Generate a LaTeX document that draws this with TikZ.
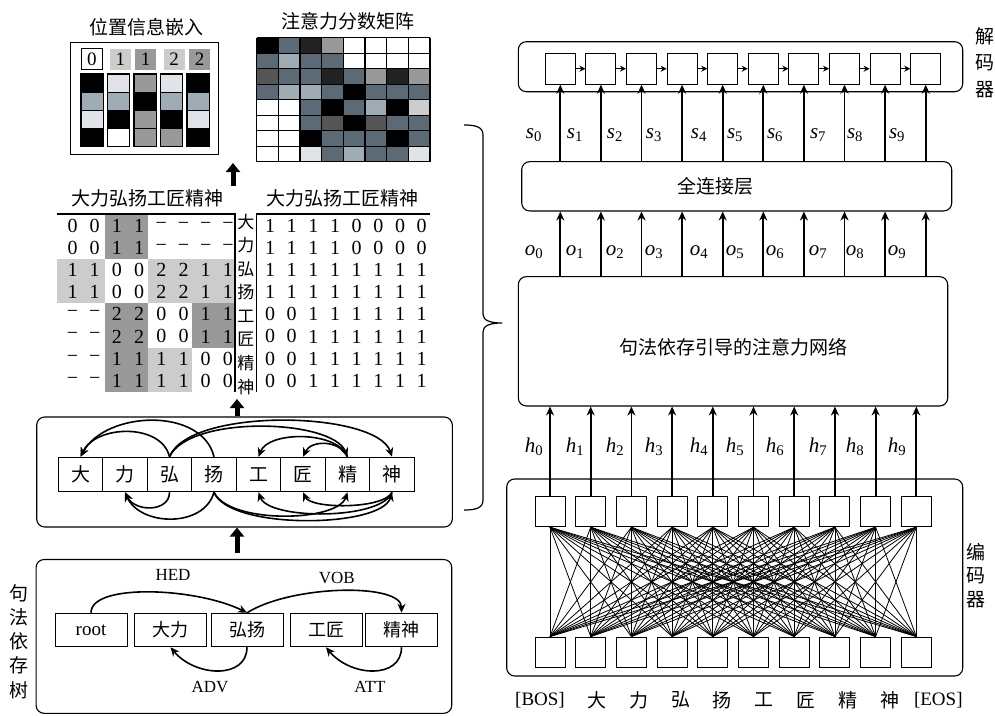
\documentclass[tikz,border=0pt]{standalone}
\usepackage{fontspec}
\setmainfont{Liberation Serif}
\newfontfamily\cjk{Noto Sans CJK SC}
\usetikzlibrary{positioning, arrows.meta}
\definecolor{slatec}{RGB}{92,106,118}
\definecolor{lslatec}{RGB}{160,172,180}
\definecolor{vlightc}{RGB}{224,228,232}
\definecolor{midgrayc}{RGB}{153,153,153}
\definecolor{lgrayc}{RGB}{204,204,204}
\definecolor{dgrayc}{RGB}{85,85,85}
\definecolor{nblackc}{RGB}{34,34,34}
\newcommand{\vlab}[2]{\textit{#1}\textsubscript{#2}}

\begin{document}
\begin{tikzpicture}[
  x=1pt, y=-1pt,
  font=\fontsize{19}{22}\selectfont,
  zh/.style={font=\cjk\fontsize{19}{22}\selectfont, inner sep=0pt},
  panel/.style={draw, line width=1.1pt, rounded corners=8pt, inner sep=0pt},
  frame/.style={draw, line width=1.3pt, inner sep=0pt},
  tag/.style={minimum size=21pt, inner sep=0pt},
  cbox/.style={draw, line width=1pt, minimum width=44.5pt, minimum height=34.5pt, inner sep=0pt, font=\cjk\fontsize{19}{22}\selectfont},
  wbox/.style={draw, line width=1pt, minimum width=72pt, minimum height=33.5pt, inner sep=0pt},
  unit/.style={draw, line width=1pt, minimum width=30pt, minimum height=30pt, inner sep=0pt},
  num/.style={inner sep=0pt, font=\fontsize{20}{22}\selectfont},
  lab/.style={inner sep=0pt, font=\fontsize{21}{22}\selectfont},
  arc/.style={line width=1.6pt, -{Stealth[length=9pt,width=8pt]}},
  vec/.style={line width=1.8pt, -{Stealth[length=9pt,width=8pt]}},
  chain/.style={line width=1.2pt, -{Stealth[length=6pt,width=6pt]}},
  bigup/.style={line width=5pt, -{Triangle[length=9pt,width=14pt]}}
]
\useasboundingbox (0,0) rectangle (995,715);

% position embedding
\node[zh] (ptitle) at (146,27) {位置信息嵌入};
\node[frame, minimum width=147.6pt, minimum height=112pt] (posbox) at (144.5,98.3) {};
\node[tag, draw, fill=white, line width=1pt] (p0) at (91.8,59.2) {0};
\node[tag, fill=lgrayc] (p1) at (120.3,59.2) {1};
\node[tag, fill=midgrayc] (p2) at (145.5,59.2) {1};
\node[tag, fill=lgrayc] (p3) at (174,59.2) {2};
\node[tag, fill=midgrayc] (p4) at (199.7,59.2) {2};
\foreach \colc [count=\q] in {{black,lslatec,vlightc,black},{vlightc,lslatec,black,white},{midgrayc,black,midgrayc,midgrayc},{vlightc,lslatec,black,midgrayc},{black,lslatec,vlightc,black}}
  \foreach \cc [count=\r] in \colc
    \filldraw[fill=\cc, draw=black, line width=1.3pt] (81+26.5*\q-26.5, 74+18.2*\r-18.2) rectangle ++(22.3,18.2);

% attention scores
\node[zh] (atitle) at (348,21.5) {注意力分数矩阵};
\foreach \rowc [count=\r] in {{black,slatec,nblackc,midgrayc,white,white,white,white},{slatec,lslatec,slatec,slatec,white,white,white,white},{dgrayc,slatec,slatec,nblackc,slatec,midgrayc,nblackc,midgrayc},{slatec,lslatec,lslatec,slatec,black,slatec,slatec,slatec},{white,white,slatec,black,slatec,lslatec,black,lgrayc},{white,white,slatec,dgrayc,black,dgrayc,slatec,slatec},{white,white,black,slatec,slatec,slatec,black,slatec},{white,white,vlightc,slatec,lslatec,slatec,slatec,vlightc}}
  \foreach \cc [count=\q] in \rowc
    \fill[\cc] (256.7+21.67*\q-21.67, 37.7+15.5*\r-15.5) rectangle ++(21.67,15.5);
\foreach \k in {0,...,8} {
  \draw[line width=1.3pt] (256.7+21.67*\k, 37.7) -- ++(0,124);
  \draw[line width=1.3pt] (256.7, 37.7+15.5*\k) -- ++(173.36,0);
}

% distance matrix and mask
\fill[midgrayc] (105,215) rectangle (148.3,259);
\fill[lgrayc] (57,259) rectangle (105,303.3);
\fill[lgrayc] (148.3,259) rectangle (235,303.3);
\fill[midgrayc] (105,303.3) rectangle (148.3,347.5);
\fill[midgrayc] (191.7,303.3) rectangle (235,347.5);
\fill[midgrayc] (105,347.5) rectangle (148.3,391.7);
\fill[lgrayc] (148.3,347.5) rectangle (191.7,391.7);
\node[zh] (hdrl) at (147.5,198.5) {大力弘扬工匠精神};
\node[zh] (hdrr) at (342,198.5) {大力弘扬工匠精神};
\draw[line width=1.3pt] (57,214) -- (235,214) -- (235,392);
\draw[line width=1.3pt] (430,214) -- (256.7,214) -- (256.7,392);
\foreach \ch [count=\i] in {大,力,弘,扬,工,匠,精,神}
  \node[zh, font=\cjk\fontsize{17}{18}\selectfont] (rl\i) at (245.8,221.7+23.57*\i-23.57) {\ch};
\foreach \rowv [count=\r] in {{0,0,1,1,−,−,−,−},{0,0,1,1,−,−,−,−},{1,1,0,0,2,2,1,1},{1,1,0,0,2,2,1,1},{−,−,2,2,0,0,1,1},{−,−,2,2,0,0,1,1},{−,−,1,1,1,1,0,0},{−,−,1,1,1,1,0,0}}
  \foreach \v [count=\q] in \rowv
    \node[num] (ml\r\q) at (72.5+22.2*\q-22.2, 226+22.08*\r-22.08) {\v};
\foreach \rowv [count=\r] in {{1,1,1,1,0,0,0,0},{1,1,1,1,0,0,0,0},{1,1,1,1,1,1,1,1},{1,1,1,1,1,1,1,1},{0,0,1,1,1,1,1,1},{0,0,1,1,1,1,1,1},{0,0,1,1,1,1,1,1},{0,0,1,1,1,1,1,1}}
  \foreach \v [count=\q] in \rowv
    \node[num] (mr\r\q) at (270+21.67*\q-21.67, 226+22.08*\r-22.08) {\v};

% character graph
\node[panel, minimum width=415.6pt, minimum height=110pt] (midbox) at (244.5,472) {};
\foreach \ch [count=\i] in {大,力,弘,扬,工,匠,精,神}
  \node[cbox] (c\i) at (80.5+44.5*\i-44.5,474.5) {\ch};
\draw[arc] (c3.north) .. controls +(-8,-34) and +(15,-32) .. (c1.north);
\draw[arc] (c4.north) .. controls +(-12,-50) and +(25,-46) .. (c1.north);
\draw[arc] (c3.north) .. controls +(20,-50) and +(-15,-46) .. (c8.north);
\draw[arc] (c3.north) .. controls +(20,-42) and +(-15,-38) .. (c7.north);
\draw[arc] (c7.north) .. controls +(-10,-26) and +(10,-26) .. (c5.north);
\draw[arc] (c7.north) .. controls +(-8,-17) and +(8,-17) .. (c6.north);
\draw[arc] (c3.south) .. controls +(0,20) and +(10,20) .. (c2.south);
\draw[arc] (c4.south) .. controls +(-10,36) and +(15,34) .. (c2.south);
\draw[arc] (c4.south) .. controls +(15,32) and +(-10,30) .. (c7.south);
\draw[arc] (c4.south) .. controls +(15,38) and +(-10,36) .. (c8.south);
\draw[arc] (c8.south) .. controls +(-10,28) and +(10,28) .. (c5.south);
\draw[arc] (c8.south) .. controls +(-8,17) and +(8,17) .. (c6.south);

% block arrows
\coordinate (up1a) at (233,186);
\coordinate (up1b) at (233,163);
\coordinate (up2b) at (237,399);
\coordinate (up3a) at (237,553);
\draw[bigup] (up1a) -- (up1b);
\draw[bigup] (midbox.north -| up2b) -- (up2b);
\draw[bigup] (up3a) -- (midbox.south -| up3a);

% dependency tree
\node[panel, minimum width=415.7pt, minimum height=153.8pt] (deptree) at (243.9,636.4) {};
\foreach \ch [count=\i] in {句,法,依,存,树}
  \node[zh] (dt\i) at (19.3,593+24.2*\i-24.2) {\ch};
\node[wbox] (root) at (91,630) {root};
\node[wbox, font=\cjk\fontsize{18}{20}\selectfont] (dali) at (170.5,630) {大力};
\node[wbox, font=\cjk\fontsize{18}{20}\selectfont] (hongy) at (247,630) {弘扬};
\node[wbox, font=\cjk\fontsize{18}{20}\selectfont] (gongj) at (326,630) {工匠};
\node[wbox, font=\cjk\fontsize{18}{20}\selectfont] (jings) at (401.5,630) {精神};
\draw[arc] (root.north) .. controls +(0,-30) and +(-50,-25) .. (hongy.north);
\draw[arc] (hongy.north) .. controls +(45,-28) and +(0,-30) .. (jings.north);
\draw[arc] (hongy.south) .. controls +(0,32) and +(25,30) .. (dali.south);
\draw[arc] (jings.south) .. controls +(0,32) and +(25,30) .. (gongj.south);
\node[font=\fontsize{17}{18}\selectfont] (hed) at (173,575) {HED};
\node[font=\fontsize{17}{18}\selectfont] (vob) at (336.7,578) {VOB};
\node[font=\fontsize{17}{18}\selectfont] (adv) at (210,686.7) {ADV};
\node[font=\fontsize{17}{18}\selectfont] (att) at (370,686.7) {ATT};

% brace
\draw[line width=1.2pt] (464,125) .. controls (476,125) and (483,127) .. (483,135)
  -- (483,314) .. controls (483,320) and (489,323) .. (502,323)
  .. controls (489,323) and (483,326) .. (483,332)
  -- (483,500) .. controls (483,508) and (476,510) .. (464,510);

% decoder
\node[panel, minimum width=444.4pt, minimum height=50pt] (dec) at (740.5,66.7) {};
\foreach \i in {0,...,9}
  \node[unit, minimum height=31pt] (d\i) at (560.3+40.6*\i,68.7) {};
\foreach \i [count=\j from 1] in {0,...,8}
  \draw[chain] (d\i) -- (d\j);
\foreach \ch [count=\i] in {解,码,器}
  \node[zh] (dl\i) at (985,36.7+26.3*\i-26.3) {\ch};

% fully connected layer
\node[panel, minimum width=430pt, minimum height=49.3pt] (fc) at (736.7,186.3) {};
\node[zh] (fclab) at (715,186.5) {全连接层};

% attention network
\node[panel, minimum width=429.4pt, minimum height=129.3pt] (attn) at (733,341.3) {};
\node[zh] (attlab) at (733.3,346.7) {句法依存引导的注意力网络};

% encoder
\node[panel, minimum width=456pt, minimum height=197pt] (enc) at (734.7,577.5) {};
\foreach \i in {0,...,9} {
  \node[unit] (e\i) at (550+40.7*\i,511.7) {};
  \node[unit] (f\i) at (550+40.7*\i,652) {};
}
\foreach \i in {0,...,9}
  \foreach \j in {0,...,9}
    \draw[line width=0.8pt] (f\j.north) -- (e\i.south);
\foreach \ch [count=\i] in {编,码,器}
  \node[zh] (el\i) at (976,551.7+24.2*\i-24.2) {\ch};

% vertical connections
\foreach \i in {0,...,9} {
  \draw[vec] (fc.north -| d\i) -- (d\i.south);
  \draw[vec] (attn.north -| d\i) -- (fc.south -| d\i);
  \draw[vec] (e\i.north) -- (attn.south -| e\i);
}
\foreach \lx [count=\k from 0] in {534,575,615,654,699,735,775,818,855,897} {
  \node[lab] (s\k) at (\lx,135) {\vlab{s}{\k}};
  \node[lab] (o\k) at (\lx,251.7) {\vlab{o}{\k}};
  \node[lab] (h\k) at (\lx,446.7) {\vlab{h}{\k}};
}

% input tokens
\node (wbos) at (540,700) {[BOS]};
\foreach \ch [count=\i] in {大,力,弘,扬,工,匠,精,神}
  \node[zh] (w\i) at (596.7+41.9*\i-41.9,700) {\ch};
\node (weos) at (938.3,700) {[EOS]};
\end{tikzpicture}
\end{document}
